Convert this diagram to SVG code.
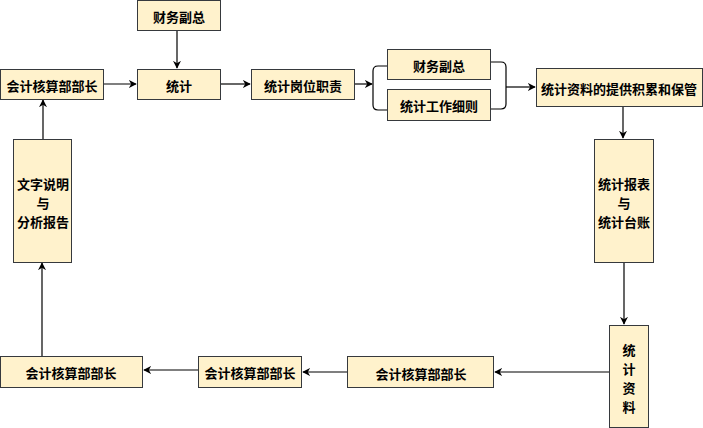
<svg xmlns="http://www.w3.org/2000/svg" width="703" height="428" viewBox="0 0 703 428">
<defs>
<marker id="ah" viewBox="0 0 10 10" refX="9" refY="5" markerWidth="8" markerHeight="8" markerUnits="userSpaceOnUse" orient="auto">
<path d="M0,0 L10,5 L0,10 L3,5 Z" fill="#000"/>
</marker>
<style>
.box{fill:#fff2cc;stroke:#36393d;stroke-width:1}
.t{font-family:"Noto Sans CJK SC","Liberation Sans",sans-serif;font-size:13px;font-weight:bold;fill:#000;text-anchor:middle;dominant-baseline:central}
.c{fill:none;stroke:#000;stroke-width:1.2}
.a{marker-end:url(#ah)}
</style>
</defs>
<rect width="703" height="428" fill="#fff"/>
<g id="connectors">
<path class="c a" d="M177,31 L177,68"/>
<path class="c a" d="M103,84 L136,84"/>
<path class="c a" d="M221,84 L250,84"/>
<path class="c a" d="M354,84 L372,84"/>
<path class="c" d="M387,66 L378,66 Q373,66 373,71 L373,105 Q373,110 378,110 L387,110"/>
<path class="c" d="M490,62 L501,62 Q506,62 506,67 L506,104 Q506,109 501,109 L490,109"/>
<path class="c a" d="M506,87 L535,87"/>
<path class="c a" d="M623,106 L623,138"/>
<path class="c a" d="M624,262 L624,324"/>
<path class="c a" d="M609,372 L495,372"/>
<path class="c a" d="M347,372 L303,372"/>
<path class="c a" d="M198,370 L144,370"/>
<path class="c a" d="M42,356 L42,263"/>
<path class="c a" d="M43,139 L43,100"/>
</g>
<g id="n1"><rect class="box" x="137.5" y="0.5" width="83" height="30"/><text class="t" x="179" y="16">财务副总</text></g>
<g id="n2"><rect class="box" x="137.5" y="69.5" width="83" height="30"/><text class="t" x="179" y="85">统计</text></g>
<g id="n3"><rect class="box" x="0.5" y="69.5" width="103" height="30"/><text class="t" x="52" y="85">会计核算部部长</text></g>
<g id="n4"><rect class="box" x="251.5" y="69.5" width="103" height="30"/><text class="t" x="303" y="85">统计岗位职责</text></g>
<g id="n5"><rect class="box" x="387.5" y="49.5" width="103" height="30"/><text class="t" x="439" y="65">财务副总</text></g>
<g id="n6"><rect class="box" x="387.5" y="89.5" width="103" height="31"/><text class="t" x="439" y="105">统计工作细则</text></g>
<g id="n7"><rect class="box" x="536.5" y="68.5" width="166" height="38"/><text class="t" x="619" y="88">统计资料的提供积累和保管</text></g>
<g id="n8"><rect class="box" x="594.5" y="139.5" width="59" height="123"/><text class="t"><tspan x="624" y="183">统计报表</tspan><tspan x="624" y="202">与</tspan><tspan x="624" y="221">统计台账</tspan></text></g>
<g id="n9"><rect class="box" x="609.5" y="325.5" width="39" height="102"/><text class="t"><tspan x="629" y="349">统</tspan><tspan x="629" y="368">计</tspan><tspan x="629" y="387">资</tspan><tspan x="629" y="406">料</tspan></text></g>
<g id="n10"><rect class="box" x="347.5" y="356.5" width="146" height="31"/><text class="t" x="421" y="373">会计核算部部长</text></g>
<g id="n11"><rect class="box" x="198.5" y="356.5" width="103" height="31"/><text class="t" x="250" y="372">会计核算部部长</text></g>
<g id="n12"><rect class="box" x="0.5" y="356.5" width="142" height="31"/><text class="t" x="71" y="372">会计核算部部长</text></g>
<g id="n13"><rect class="box" x="13.5" y="139.5" width="58" height="123"/><text class="t"><tspan x="43" y="183">文字说明</tspan><tspan x="43" y="202">与</tspan><tspan x="43" y="221">分析报告</tspan></text></g>
</svg>
